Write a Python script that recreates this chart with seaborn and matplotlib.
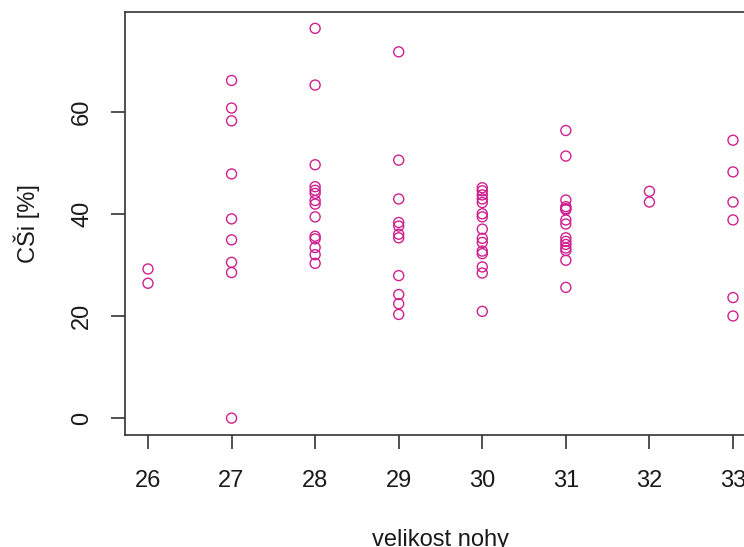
import matplotlib
matplotlib.use("Agg")
import matplotlib.pyplot as plt
import seaborn as sns
import pandas as pd

# data: CSi [%] per foot size (velikost nohy)
size_26 = [29.2, 26.4]
size_27 = [66.1, 60.7, 58.2, 47.8, 39.0, 34.9, 30.5, 28.5, 0.0]
size_28 = [76.3, 65.2, 49.6, 45.3, 44.6, 44.0, 42.6, 41.9, 39.4, 35.6, 35.1, 33.4, 32.0, 30.3]
size_29 = [71.7, 50.5, 42.9, 38.3, 37.6, 36.0, 35.3, 27.9, 24.2, 22.4, 20.3]
size_30 = [45.1, 44.5, 43.7, 42.9, 42.2, 40.0, 39.4, 37.0, 35.2, 34.4, 32.7, 32.2, 29.6, 28.4, 20.9]
size_31 = [56.3, 51.3, 42.7, 41.4, 41.0, 40.8, 38.8, 38.0, 35.3, 34.6, 34.0, 33.3, 32.8, 30.9, 25.6]
size_32 = [44.4, 42.3]
size_33 = [54.4, 48.2, 42.3, 38.8, 23.6, 20.0]

x_ticks = [26, 27, 28, 29, 30, 31, 32, 33]
y_ticks = [0, 20, 40, 60]

groups = [size_26, size_27, size_28, size_29, size_30, size_31, size_32, size_33]
rows = []
for size, vals in zip(x_ticks, groups):
    for v in vals:
        rows.append({"velikost": size, "csi": v})
df = pd.DataFrame(rows)

sns.set_theme(style="ticks")
plt.rcParams["font.family"] = ["Liberation Sans", "DejaVu Sans"]

fig = plt.figure(figsize=(7.44, 5.47), dpi=100)
ax = fig.add_axes([125 / 744, 1 - 435 / 547, (756.4 - 125) / 744, (435 - 12) / 547])

sns.scatterplot(data=df, x="velikost", y="csi", ax=ax, marker="o", s=52,
                facecolor="none", edgecolor="#D02090", linewidth=1.0, legend=False)

ax.set_xlim(25.725, 33.28)
ax.set_ylim(-3.3, 79.5)
ax.set_xticks(x_ticks)
ax.set_yticks(y_ticks)
ax.set_xticklabels([str(t) for t in x_ticks])
ax.set_yticklabels([str(t) for t in y_ticks])

for sp in ax.spines.values():
    sp.set_visible(True)
    sp.set_color("#333333")
    sp.set_linewidth(1.2)

ax.tick_params(axis="both", direction="out", length=10, width=1.2, color="#333333",
               labelsize=17, labelcolor="#1a1a1a")
ax.tick_params(axis="x", pad=15)
ax.tick_params(axis="y", pad=13)
for lab in ax.get_yticklabels():
    lab.set_rotation(90)
    lab.set_va("center")
    lab.set_ha("right")

ax.set_xlabel("velikost nohy", fontsize=17, color="#1a1a1a")
ax.set_ylabel("CŠi [%]", fontsize=17, color="#1a1a1a")
ax.xaxis.set_label_coords(0.5, -0.222)
ax.yaxis.label.set_va("center")
ax.yaxis.set_label_coords(-0.155, 0.5)

fig.savefig("out.png", dpi=100)
